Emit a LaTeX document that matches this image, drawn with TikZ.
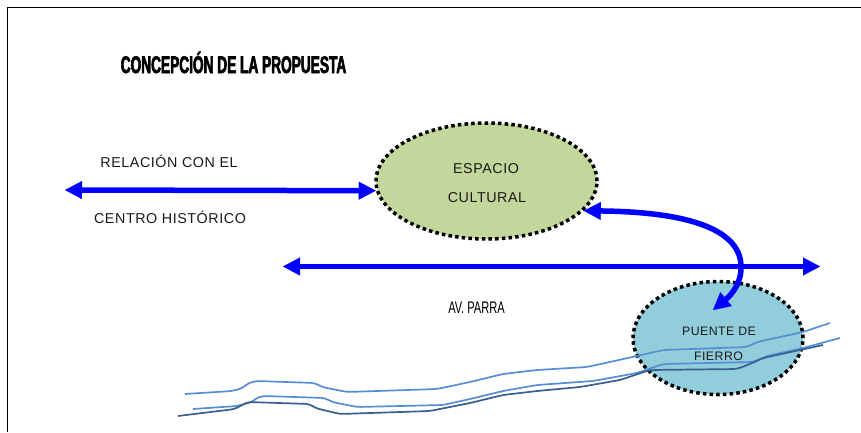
\documentclass[tikz,border=0pt]{standalone}
\usepackage{fontspec}
\setmainfont{Liberation Sans}
\newfontfamily\titlefont[FakeStretch=0.57,FakeBold=2.5]{Liberation Sans Bold}
\newfontfamily\avfont[FakeStretch=0.66]{Liberation Sans}
\newfontfamily\lblfont[LetterSpace=4]{Liberation Sans}
\usetikzlibrary{arrows.meta,shapes.geometric}
\definecolor{arrowblue}{HTML}{0000FF}
\definecolor{greenfill}{HTML}{C3D69B}
\definecolor{bluefill}{HTML}{92CDDC}
\definecolor{riverlight}{HTML}{558ED5}
\definecolor{riverdark}{HTML}{3A5F8F}
\begin{document}
\begin{tikzpicture}[x=1pt,y=-1pt,
  bigarrow/.style={draw=arrowblue, line width=5.5pt,
    {Triangle[length=17pt,width=18pt,line width=0.1pt]}-{Triangle[length=17pt,width=18pt,line width=0.1pt]}},
  dotborder/.style={draw=black, line width=3.5pt, dash pattern=on 3.5pt off 3.2pt},
  zone/.style={ellipse, dotborder, inner sep=0pt},
  lbl/.style={anchor=base, inner sep=0pt, text=black!90, font=\lblfont\fontsize{14.3}{16}\selectfont},
  smalllbl/.style={anchor=base, inner sep=0pt, text=black!90, font=\lblfont\fontsize{12.3}{14}\selectfont},
  river/.style={line width=1.7pt, rounded corners=4pt, line join=round},
]
\useasboundingbox (0,0) rectangle (861,432);
\fill[white] (0,0) rectangle (861,432);
\draw[line width=1.4pt] (7.5,432) -- (7.5,7.5) -- (861,7.5);

% title
\node[anchor=base, inner sep=0pt, font=\titlefont\fontsize{24}{26}\selectfont] (title) at (233.5,73) {CONCEPCIÓN DE LA PROPUESTA};

% zones
\node[zone, fill=greenfill, minimum width=221pt, minimum height=116pt] (green) at (486.5,181) {};
\node[zone, fill=bluefill, minimum width=170pt, minimum height=113pt] (blue) at (718,338) {};

\node[lbl] (espacio) at (486,173) {ESPACIO};
\node[lbl] (cultural) at (487,202) {CULTURAL};
\node[smalllbl] (puente) at (719,335) {PUENTE DE};
\node[smalllbl] (fierro) at (718.5,360) {FIERRO};

% left relation
\node[lbl] (rel1) at (169,167) {RELACIÓN CON EL};
\node[lbl] (rel2) at (170,223) {CENTRO HISTÓRICO};
\coordinate (relL) at (65,190);
\draw[bigarrow] (relL) -- (green.185);

% Av. Parra
\coordinate (avL) at (283,266.5);
\coordinate (avR) at (820,266.5);
\draw[bigarrow] (avL) -- (avR);
\node[anchor=base, inner sep=0pt, font=\avfont\fontsize{16.8}{18}\selectfont] (avparra) at (476.5,313) {AV. PARRA};

% curved link
\coordinate (bend) at (741,268);
\draw[bigarrow] (green.-17) .. controls (690,212) and (742,230) .. (bend)
   .. controls (741,288) and (725,300) .. ([shift={(-5,-28)}]blue.center);

% river
\draw[river, riverlight] (185,394) -- (232,391) -- (243,388) -- (248,383) -- (257,381) -- (315,383) -- (322,387) -- (347,392) -- (437,389) -- (470,382) -- (503,374) -- (537,370) -- (587,367) -- (637,356) -- (663,350) -- (747,347) -- (757,342) -- (803,332) -- (830,323);
\draw[river, riverlight] (193,409) -- (237,406) -- (252,402) -- (258,397) -- (265,396) -- (325,398) -- (332,402) -- (357,407) -- (443,405) -- (470,399) -- (503,391) -- (537,385) -- (593,381) -- (637,373) -- (663,364) -- (753,362) -- (767,356) -- (803,348) -- (840,338);
\draw[river, riverdark] (178,416) -- (235,409) -- (242,405) -- (248,402) -- (310,404) -- (315,408) -- (340,414) -- (430,411) -- (470,403) -- (503,395) -- (537,391) -- (580,387) -- (620,380) -- (650,370) -- (737,369) -- (750,364) -- (763,358) -- (823,345);
\end{tikzpicture}
\end{document}
